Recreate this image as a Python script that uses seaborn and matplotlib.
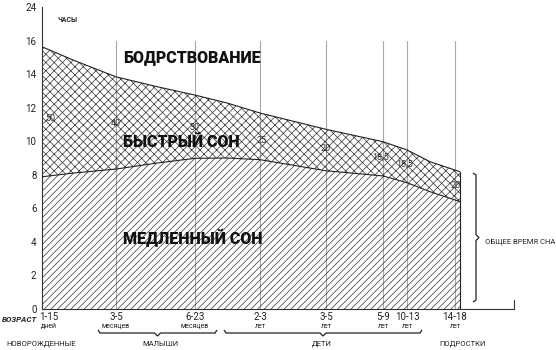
import numpy as np
import pandas as pd
import matplotlib
matplotlib.use("Agg")
import matplotlib.pyplot as plt
from matplotlib.path import Path
from matplotlib.patches import PathPatch
import seaborn as sns

# ---------------- data ----------------
age_groups_top = ["1-15", "3-5", "6-23", "2-3", "3-5", "5-9", "10-13", "14-18"]
age_groups_bottom = ["дней", "месяцев", "месяцев", "лет", "лет", "лет", "лет", "лет"]
age_x = [0, 74, 153, 218, 284, 341, 365, 413]          # category positions on the age axis
rem_pct = ["50", "40", "30", "25", "20", "18,5", "18,5", "20"]

curve_x = [0, 31, 74, 115, 153, 185, 218, 284, 341, 365, 388, 413, 418]
total_sleep = [15.63, 14.84, 13.84, 13.25, 12.75, 12.28, 11.68, 10.71, 9.97, 9.48, 8.78, 8.28, 8.18]
nrem_sleep = [7.88, 8.10, 8.34, 8.70, 8.98, 9.00, 8.90, 8.24, 7.93, 7.53, 6.99, 6.50, 6.39]

y_ticks = [0, 2, 4, 6, 8, 10, 12, 14, 16, 18]
y_tick_labels = ["0", "2", "4", "6", "8", "10", "12", "14", "16", "24"]

groups = ["НОВОРОЖДЕННЫЕ", "МАЛЫШИ", "ДЕТИ", "ПОДРОСТКИ"]

# ---------------- style ----------------
sns.set_style("white")
plt.rcParams["font.family"] = ["Roboto", "DejaVu Sans"]
plt.rcParams["hatch.linewidth"] = 0.5

df = pd.DataFrame({"x": curve_x, "total": total_sleep, "nrem": nrem_sleep})

fig = plt.figure(figsize=(5.56, 3.5), dpi=100)
ax = fig.add_axes([42 / 556, 41 / 350, (514 - 42) / 556, (309 - 7) / 350])
ax.set_xlim(0, 472)
ax.set_ylim(0, 18)

# vertical grid lines for age categories
for xv in age_x[1:]:
    ax.plot([xv, xv], [0, 16], color="#a8a8a8", lw=0.8, zorder=1)

# hatched areas
ax.fill_between(df["x"], 0, df["nrem"], facecolor="none", edgecolor="#333333",
                hatch="/////", linewidth=0, zorder=2)
ax.fill_between(df["x"], df["nrem"], df["total"], facecolor="none", edgecolor="#333333",
                hatch="xxxx", linewidth=0, zorder=2)

# outlines
sns.lineplot(data=df, x="x", y="total", color="#222222", lw=0.8, ax=ax, zorder=3)
sns.lineplot(data=df, x="x", y="nrem", color="#222222", lw=0.8, ax=ax, zorder=3)
ax.plot([curve_x[-1], curve_x[-1]], [0, total_sleep[-1]], color="#222222", lw=0.8, zorder=3)

# axes styling
for s in ["top", "right"]:
    ax.spines[s].set_visible(False)
ax.spines["left"].set_linewidth(0.8)
ax.spines["bottom"].set_linewidth(0.8)
ax.spines["left"].set_color("#333333")
ax.spines["bottom"].set_color("#333333")
ax.plot([472, 472], [0, 0.55], color="#333333", lw=0.8, clip_on=False)

ax.set_yticks(y_ticks)
ax.set_yticklabels(y_tick_labels, fontsize=7, color="#222222")
ax.set_yticks([17], minor=True)
ax.tick_params(axis="y", which="both", direction="in", length=3, width=0.7, pad=4, color="#333333")
ax.set_xticks([])
ax.set_xlabel("")
ax.set_ylabel("")

# percentage labels
pct_y = [11.38, 11.08, 10.79, 10.07, 9.54, 9.06, 8.64, 7.39]
pct_dx = [8, 0, 0, 2, 0, -2, -2, 1]
for xv, yv, dx, t in zip(age_x, pct_y, pct_dx, rem_pct):
    ax.text(xv + dx, yv, t, fontsize=6.5, color="#333333", ha="center", va="center", zorder=4)

# big region labels
big = dict(fontsize=11.5, fontweight="black", ha="left", va="center", zorder=5, color="#111111")
ax.text(81, 15.0, "БОДРСТВОВАНИЕ", **big)
ax.text(81, 9.95, "БЫСТРЫЙ СОН", **big)
ax.text(81, 4.25, "МЕДЛЕННЫЙ СОН", **big)
ax.text(16, 17.2, "ЧАСЫ", fontsize=5, fontweight="bold", ha="left", va="center")

# x tick labels (two lines)
trans = ax.get_xaxis_transform()
for i, (xv, t1, t2) in enumerate(zip(age_x, age_groups_top, age_groups_bottom)):
    xx = xv + (7 if i == 0 else 0)
    ax.text(xx, -8 / 302, t1, transform=trans, fontsize=7, ha="center", va="center", color="#222222")
    ax.text(xx, -17 / 302, t2, transform=trans, fontsize=5, ha="center", va="center", color="#222222")

fig.text(2 / 556, 1 - 319 / 350, "ВОЗРАСТ", fontsize=5.8, fontweight="bold", fontstyle="italic",
         ha="left", va="center")

# group labels
group_px = [41, 160, 322, 463]
for gx, g in zip(group_px, groups):
    fig.text(gx / 556, 1 - 344 / 350, g, fontsize=5.5, ha="center", va="center", color="#222222")


def hbrace(x0, x1, y, h=3):
    xm = (x0 + x1) / 2
    v = [(px / 556, 1 - py / 350) for px, py in
         [(x0, y - h), (x0 + 2, y), (xm - 3, y), (xm, y + h), (xm + 3, y), (x1 - 2, y), (x1, y - h)]]
    codes = [Path.MOVETO] + [Path.LINETO] * (len(v) - 1)
    fig.add_artist(PathPatch(Path(v, codes), fill=False, lw=0.9, edgecolor="#222222",
                             transform=fig.transFigure))


hbrace(98, 217, 333)
hbrace(224, 422, 333)


def vbrace(x, y0, y1, w=3):
    ym = (y0 + y1) / 2
    v = [(x - w, y0), (x, y0 + 2), (x, ym - 3), (x + w, ym), (x, ym + 3), (x, y1 - 2), (x - w, y1)]
    v = [(px / 556, 1 - py / 350) for px, py in v]
    codes = [Path.MOVETO] + [Path.LINETO] * (len(v) - 1)
    fig.add_artist(PathPatch(Path(v, codes), fill=False, lw=0.9, edgecolor="#222222",
                             transform=fig.transFigure))


vbrace(476, 173, 302)
fig.text(485 / 556, 1 - 242 / 350, "ОБЩЕЕ ВРЕМЯ СНА", fontsize=5.5, ha="left", va="center", color="#222222")

fig.savefig("out.png", dpi=100)
